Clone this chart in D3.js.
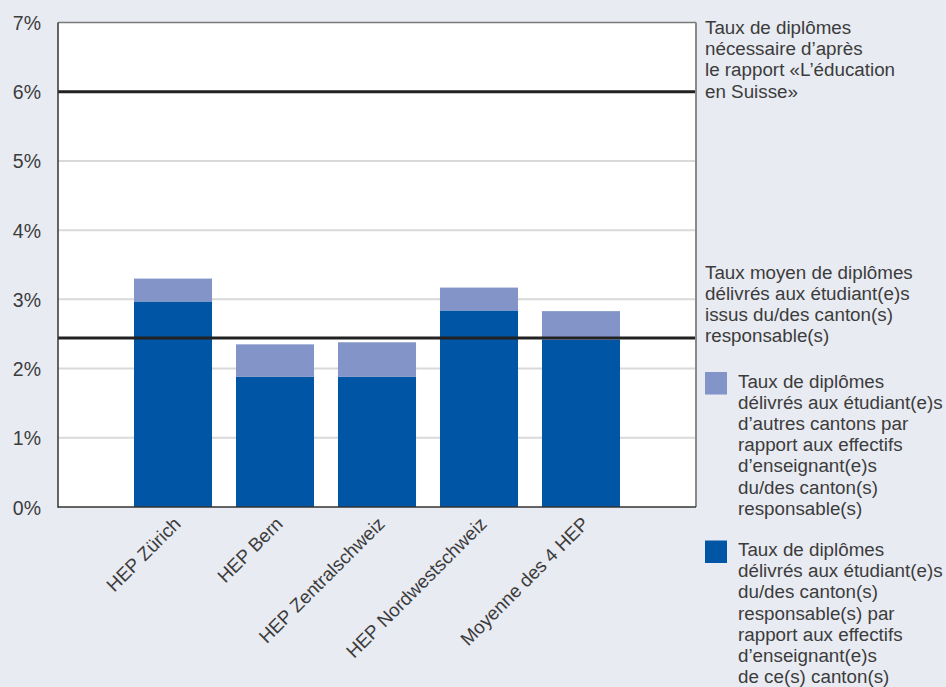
<!DOCTYPE html>
<html>
<head>
<meta charset="utf-8">
<script src="https://cdn.jsdelivr.net/npm/d3@7"></script>
<style>
  body { margin: 0; background: #e8ebf2; }
  svg { display: block; font-family: "Liberation Sans", Arial, sans-serif; }
  text { fill: #3c3c3c; }
</style>
</head>
<body>
<svg id="chart" width="946" height="687"></svg>
<script>
// data
const categories = ["HEP Zürich", "HEP Bern", "HEP Zentralschweiz", "HEP Nordwestschweiz", "Moyenne des 4 HEP"];
const ownCanton = [2.97, 1.88, 1.88, 2.84, 2.42];
const otherCantons = [0.33, 0.47, 0.50, 0.33, 0.41];
const refLines = [6.0, 2.44];
const yTicks = [0, 1, 2, 3, 4, 5, 6, 7];

const legendRef = [
  ["Taux de diplômes", "nécessaire d’après", "le rapport «L’éducation", "en Suisse»"],
  ["Taux moyen de diplômes", "délivrés aux étudiant(e)s", "issus du/des canton(s)", "responsable(s)"]
];
const legendBars = [
  {color: "#8294c8", lines: ["Taux de diplômes", "délivrés aux étudiant(e)s", "d’autres cantons par", "rapport aux effectifs", "d’enseignant(e)s", "du/des canton(s)", "responsable(s)"]},
  {color: "#0055a4", lines: ["Taux de diplômes", "délivrés aux étudiant(e)s", "du/des canton(s)", "responsable(s) par", "rapport aux effectifs", "d’enseignant(e)s", "de ce(s) canton(s)"]}
];

const svg = d3.select("#chart");
const plotL = 58, plotR = 696, plotT = 22.5, plotB = 507;

const x = d3.scaleBand()
    .domain(categories)
    .range([plotL, plotR])
    .paddingInner(0.235)
    .paddingOuter(0.745);

const y = d3.scaleLinear()
    .domain([0, 7])
    .range([plotB, plotT]);

// plot background
svg.append("rect")
    .attr("x", plotL).attr("y", plotT)
    .attr("width", plotR - plotL).attr("height", plotB - plotT)
    .attr("fill", "#fff");

// grid
svg.append("g")
    .selectAll("line")
    .data(yTicks.filter(d => d > 0 && d < 7))
    .enter().append("line")
    .attr("x1", plotL).attr("x2", plotR)
    .attr("y1", d => y(d)).attr("y2", d => y(d))
    .attr("stroke", "#d9d9d9")
    .attr("stroke-width", 2);

// stacked bars
const bars = svg.append("g");
bars.selectAll(".own")
    .data(categories)
    .enter().append("rect")
    .attr("x", d => x(d))
    .attr("width", x.bandwidth())
    .attr("y", (d, i) => y(ownCanton[i]))
    .attr("height", (d, i) => y(0) - y(ownCanton[i]))
    .attr("fill", legendBars[1].color);
bars.selectAll(".other")
    .data(categories)
    .enter().append("rect")
    .attr("x", d => x(d))
    .attr("width", x.bandwidth())
    .attr("y", (d, i) => y(ownCanton[i] + otherCantons[i]))
    .attr("height", (d, i) => y(ownCanton[i]) - y(ownCanton[i] + otherCantons[i]))
    .attr("fill", legendBars[0].color);

// reference lines
svg.append("g")
    .selectAll("line")
    .data(refLines)
    .enter().append("line")
    .attr("x1", plotL).attr("x2", plotR)
    .attr("y1", d => y(d)).attr("y2", d => y(d))
    .attr("stroke", "#222")
    .attr("stroke-width", 3);

// frame
svg.append("line").attr("x1", plotL).attr("x2", plotR).attr("y1", plotT).attr("y2", plotT)
    .attr("stroke", "#7a7a7a").attr("stroke-width", 1.5);
svg.append("line").attr("x1", plotR).attr("x2", plotR).attr("y1", plotT).attr("y2", plotB)
    .attr("stroke", "#8a8a8a").attr("stroke-width", 2);
svg.append("line").attr("x1", plotL).attr("x2", plotL).attr("y1", plotT).attr("y2", plotB + 0.75)
    .attr("stroke", "#333").attr("stroke-width", 1.5);
svg.append("line").attr("x1", plotL).attr("x2", plotR).attr("y1", plotB).attr("y2", plotB)
    .attr("stroke", "#333").attr("stroke-width", 1.5);

// y tick labels
svg.append("g")
    .selectAll("text")
    .data(yTicks)
    .enter().append("text")
    .attr("x", 41)
    .attr("y", d => y(d) + 7.5)
    .attr("text-anchor", "end")
    .attr("font-size", 19.5)
    .text(d => d + "%");

// x labels, rotated
svg.append("g")
    .selectAll("text")
    .data(categories)
    .enter().append("text")
    .attr("transform", d => `translate(${x(d) + x.bandwidth() / 2 + 9},${plotB + 18}) rotate(-45)`)
    .attr("text-anchor", "end")
    .attr("font-size", 18.8)
    .text(d => d);

// right-hand legend
const lh = 21.2;
const fs = 18.8;
const refBase = [34, 278.5];
legendRef.forEach((lines, k) => {
  const t = svg.append("text")
      .attr("x", 705).attr("y", refBase[k])
      .attr("font-size", fs);
  t.selectAll("tspan")
      .data(lines)
      .enter().append("tspan")
      .attr("x", 705)
      .attr("dy", (d, i) => i ? lh : 0)
      .text(d => d);
});

const barBase = [387.5, 556];
legendBars.forEach((item, k) => {
  svg.append("rect")
      .attr("x", 705).attr("y", barBase[k] - 15.5)
      .attr("width", 22).attr("height", 22.5)
      .attr("fill", item.color);
  const t = svg.append("text")
      .attr("x", 738).attr("y", barBase[k])
      .attr("font-size", fs);
  t.selectAll("tspan")
      .data(item.lines)
      .enter().append("tspan")
      .attr("x", 738)
      .attr("dy", (d, i) => i ? lh : 0)
      .text(d => d);
});
</script>
</body>
</html>
